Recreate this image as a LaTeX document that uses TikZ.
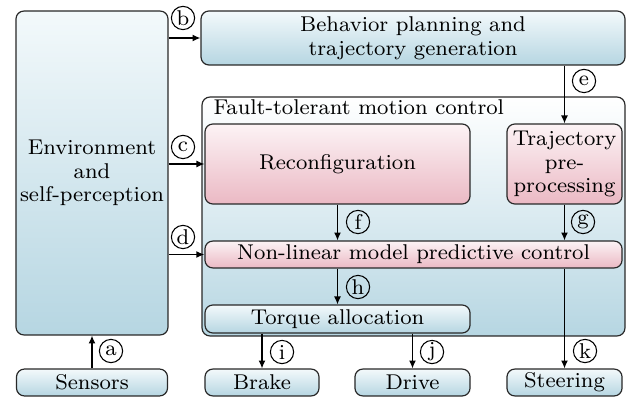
\documentclass[tikz,border=0pt]{standalone}
\usetikzlibrary{arrows.meta}
\definecolor{bluebot}{RGB}{182,214,226}
\definecolor{bluetop}{RGB}{243,249,251}
\definecolor{pinkbot}{RGB}{235,185,196}
\definecolor{pinktop}{RGB}{252,243,245}
\definecolor{edgec}{RGB}{40,40,40}
\tikzset{
  blk/.style={draw=edgec, line width=0.45pt, rounded corners=3pt, inner sep=0pt,
    align=center, font=\fontsize{8.1}{9}\selectfont, top color=bluetop, bottom color=bluebot},
  pinkblk/.style={blk, top color=pinktop, bottom color=pinkbot},
  arr/.style={-{Latex[length=3pt,width=2.6pt]}, line width=0.45pt},
  lab/.style={circle, draw, line width=0.4pt, inner sep=0pt, minimum size=8.8pt,
    font=\fontsize{8.1}{9}\selectfont},
}
\begin{document}
\begin{tikzpicture}[x=0.3788pt,y=-0.3788pt]
\useasboundingbox (0,0) rectangle (630,397);
% boxes
\node[blk, minimum width=57.6pt, minimum height=122.7pt] (env) at (92,173) {Environment\\and\\self-perception};
\node[blk, minimum width=160.6pt, minimum height=20.45pt] (beh) at (413,38) {Behavior planning and\\trajectory generation};
\node[blk, top color=white, minimum width=160.2pt, minimum height=90.5pt] (ftmc) at (413.5,216.5) {};
\node[anchor=base west, inner sep=0pt, font=\fontsize{8.1}{9}\selectfont] (ftmcl) at (213,115) {Fault-tolerant motion control};
\node[pinkblk, minimum width=100.4pt, minimum height=30.3pt] (rec) at (337.5,164) {Reconfiguration};
\node[pinkblk, minimum width=43.6pt, minimum height=30.3pt] (traj) at (564.5,164) {Trajectory\\pre-\\processing};
\node[pinkblk, minimum width=158pt, minimum height=10.2pt] (nmpc) at (413.5,254.5) {Non-linear model predictive control};
\node[blk, minimum width=100.4pt, minimum height=10.6pt] (tq) at (337.5,319) {Torque allocation};
\node[blk, minimum width=57.2pt, minimum height=10.2pt] (sens) at (92,382.5) {Sensors};
\node[blk, minimum width=43.2pt, minimum height=10.2pt] (brake) at (262,382.5) {Brake};
\node[blk, minimum width=43.6pt, minimum height=10.2pt] (drive) at (412.5,382.5) {Drive};
\node[blk, minimum width=43.6pt, minimum height=10.2pt] (steer) at (564.5,382.5) {Steering};
% connectors
\draw[arr] (sens.north) -- (env.south);
\draw[arr] (env.east |- beh.west) -- (beh.west);
\draw[arr] (env.east |- rec.west) -- (rec.west);
\draw[arr] (env.east |- nmpc.west) -- (nmpc.west);
\draw[arr] (beh.south -| traj.north) -- (traj.north);
\draw[arr] (rec.south) -- (rec.south |- nmpc.north);
\draw[arr] (traj.south) -- (traj.south |- nmpc.north);
\draw[arr] (nmpc.south -| tq.north) -- (tq.north);
\draw[arr] (tq.south -| brake.north) -- (brake.north);
\draw[arr] (tq.south -| drive.north) -- (drive.north);
\draw[arr] (nmpc.south -| steer.north) -- (steer.north);
% labels
\node[lab] (la) at (111,351) {a};
\node[lab] (lb) at (183,18) {b};
\node[lab] (lc) at (183,147) {c};
\node[lab] (ld) at (183,237) {d};
\node[lab] (le) at (584,81) {e};
\node[lab] (lf) at (358,222) {f};
\node[lab] (lg) at (583,222) {g};
\node[lab] (lh) at (358,287) {h};
\node[lab] (li) at (282,352) {i};
\node[lab] (lj) at (432,352) {j};
\node[lab] (lk) at (585,351) {k};
\end{tikzpicture}
\end{document}
